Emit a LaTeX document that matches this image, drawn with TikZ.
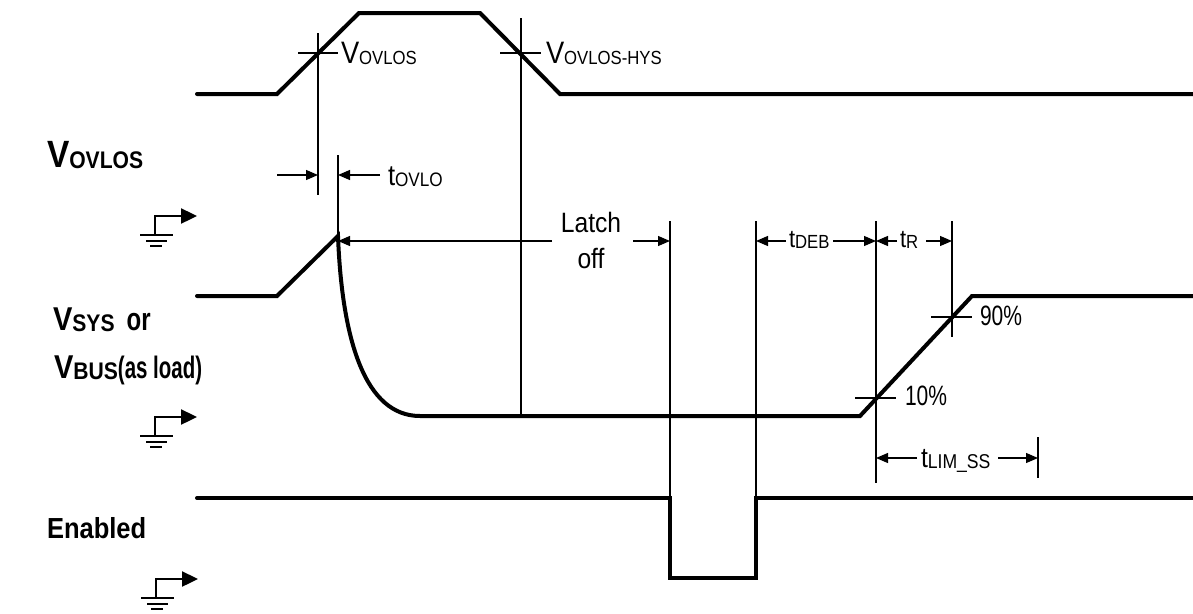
\documentclass[tikz,border=0pt]{standalone}
\usepackage{fontspec}
\setmainfont[FakeStretch=0.88]{Liberation Sans}
\newfontfamily\pctfont[FakeStretch=0.75]{Liberation Sans}
\newfontfamily\narrowfont[FakeStretch=0.66]{Liberation Sans}
\usetikzlibrary{arrows.meta}
\newcommand{\fs}[1]{\fontsize{#1}{#1}\selectfont}
\newcommand{\lbl}[4]{{\fs{#1}#2\raisebox{-1.5pt}{\fs{#3}#4}}}
\tikzset{
  wave/.style={line width=4pt, line cap=round},
  guide/.style={line width=1.2pt},
  dimarrow/.style={line width=1.2pt, -{Triangle[length=12pt,width=10pt]}},
  txt/.style={anchor=base west, inner sep=0pt, outer sep=0pt},
  ground/.pic={
    \draw[line width=2.4pt, -{Triangle[length=16pt,width=15pt]}] (0,19) -- (0,0) -- (42,0);
    \draw[line width=2pt] (-15,19) -- (18,19);
    \draw[line width=2pt] (-9,25) -- (12,25);
    \draw[line width=2pt] (-5,30) -- (7,30);
  }
}
\begin{document}
\begin{tikzpicture}[x=1pt,y=-1pt]
\useasboundingbox (0,0) rectangle (1193,613);
% waveform points
\coordinate (a0) at (197,94); \coordinate (a1) at (277,94); \coordinate (a2) at (359,13);
\coordinate (a3) at (480,13); \coordinate (a4) at (560,94); \coordinate (a5) at (1196,94);
\coordinate (b0) at (197,296); \coordinate (b1) at (277,296); \coordinate (b2) at (338,236);
\coordinate (b3) at (420,416); \coordinate (b4) at (860,416); \coordinate (b5) at (972,296);
\coordinate (b6) at (1196,296);
\coordinate (c0) at (197,498); \coordinate (c1) at (670,498); \coordinate (c2) at (670,578);
\coordinate (c3) at (756,578); \coordinate (c4) at (756,498); \coordinate (c5) at (1196,498);
% guide ends
\coordinate (v1t) at (318,33); \coordinate (v1b) at (318,195);
\coordinate (v2t) at (521,18); \coordinate (v2b) at (521,414);
\coordinate (v3t) at (338,155);
\coordinate (v4t) at (670,221);
\coordinate (v5t) at (756,221);
\coordinate (v6t) at (876,221); \coordinate (v6b) at (876,483);
\coordinate (v7t) at (952,221); \coordinate (v7b) at (952,337);
\coordinate (v8t) at (1038,437); \coordinate (v8b) at (1038,478);
% ticks
\coordinate (k1l) at (298,53); \coordinate (k1r) at (338,53);
\coordinate (k2l) at (500,53); \coordinate (k2r) at (541,53);
\coordinate (k3l) at (855,398); \coordinate (k3r) at (896,398);
\coordinate (k4l) at (931,317); \coordinate (k4r) at (972,317);
% dimension arrow ends
\coordinate (d1s) at (277,175); \coordinate (d1e) at (318,175);
\coordinate (d2s) at (380,175); \coordinate (d2e) at (338,175);
\coordinate (d3s) at (552,241); \coordinate (d3e) at (338,241);
\coordinate (d4s) at (633,241); \coordinate (d4e) at (670,241);
\coordinate (d5s) at (786,241); \coordinate (d5e) at (756,241);
\coordinate (d6s) at (833,241); \coordinate (d6e) at (876,241);
\coordinate (d7s) at (897,241); \coordinate (d7e) at (876,241);
\coordinate (d8s) at (926,241); \coordinate (d8e) at (952,241);
\coordinate (d9s) at (917,458); \coordinate (d9e) at (876,458);
\coordinate (d10s) at (998,458); \coordinate (d10e) at (1038,458);

% waveforms
\draw[wave] (a0) -- (a1) -- (a2) -- (a3) -- (a4) -- (a5);
\draw[wave] (b0) -- (b1) -- (b2) .. controls (342,340) and (365,416) .. (b3) -- (b4) -- (b5) -- (b6);
\draw[wave] (c0) -- (c1) -- (c2) -- (c3) -- (c4) -- (c5);

% guides
\draw[guide] (v1t) -- (v1b);
\draw[guide] (v2t) -- (v2b);
\draw[guide] (v3t) -- (b2);
\draw[guide] (v4t) -- (c1);
\draw[guide] (v5t) -- (c4);
\draw[guide] (v6t) -- (v6b);
\draw[guide] (v7t) -- (v7b);
\draw[guide] (v8t) -- (v8b);
\draw[guide] (k1l) -- (k1r);
\draw[guide] (k2l) -- (k2r);
\draw[guide] (k3l) -- (k3r);
\draw[guide] (k4l) -- (k4r);

% dimension arrows
\foreach \i in {1,...,10} { \draw[dimarrow] (d\i s) -- (d\i e); }

% grounds
\pic (g1) at (155,216) {ground};
\pic (g2) at (155,417) {ground};
\pic (g3) at (156,579) {ground};

% signal labels
\node[txt] (lovlos) at (47,167) {\bfseries\lbl{38}{V}{24}{OVLOS}};
\node[txt] (lsys) at (53,330) {\bfseries\lbl{33}{V}{24}{SYS}\hspace{12pt}{\pctfont\fs{32}or}};
\node[txt] (lbus) at (54,378) {\bfseries\lbl{33}{V}{24}{BUS}{\narrowfont\fs{31}(as load)}};
\node[txt] (len) at (47,538) {\bfseries\fs{29}Enabled};

% timing labels
\node[txt] (tv1) at (341,63) {\lbl{31}{V}{19}{OVLOS}};
\node[txt] (tv2) at (546,63) {\lbl{31}{V}{19}{OVLOS-HYS}};
\node[txt] (tovlo) at (388,185) {\lbl{29}{t}{19.5}{OVLO}};
\node[anchor=base, inner sep=0pt] (latch) at (591,232) {\fs{28}Latch};
\node[anchor=base, inner sep=0pt] (off) at (591,268) {\fs{28}off};
\node[txt] (tdeb) at (789,247) {\lbl{25}{t}{19}{DEB}};
\node[txt] (tr) at (900,247) {\lbl{25}{t}{19}{R}};
\node[txt] (tlim) at (921,467) {\lbl{28}{t}{20}{LIM\_SS}};
\node[txt] (p90) at (980,325) {\pctfont\fs{28}90\%};
\node[txt] (p10) at (905,405) {\pctfont\fs{28}10\%};
\end{tikzpicture}
\end{document}
